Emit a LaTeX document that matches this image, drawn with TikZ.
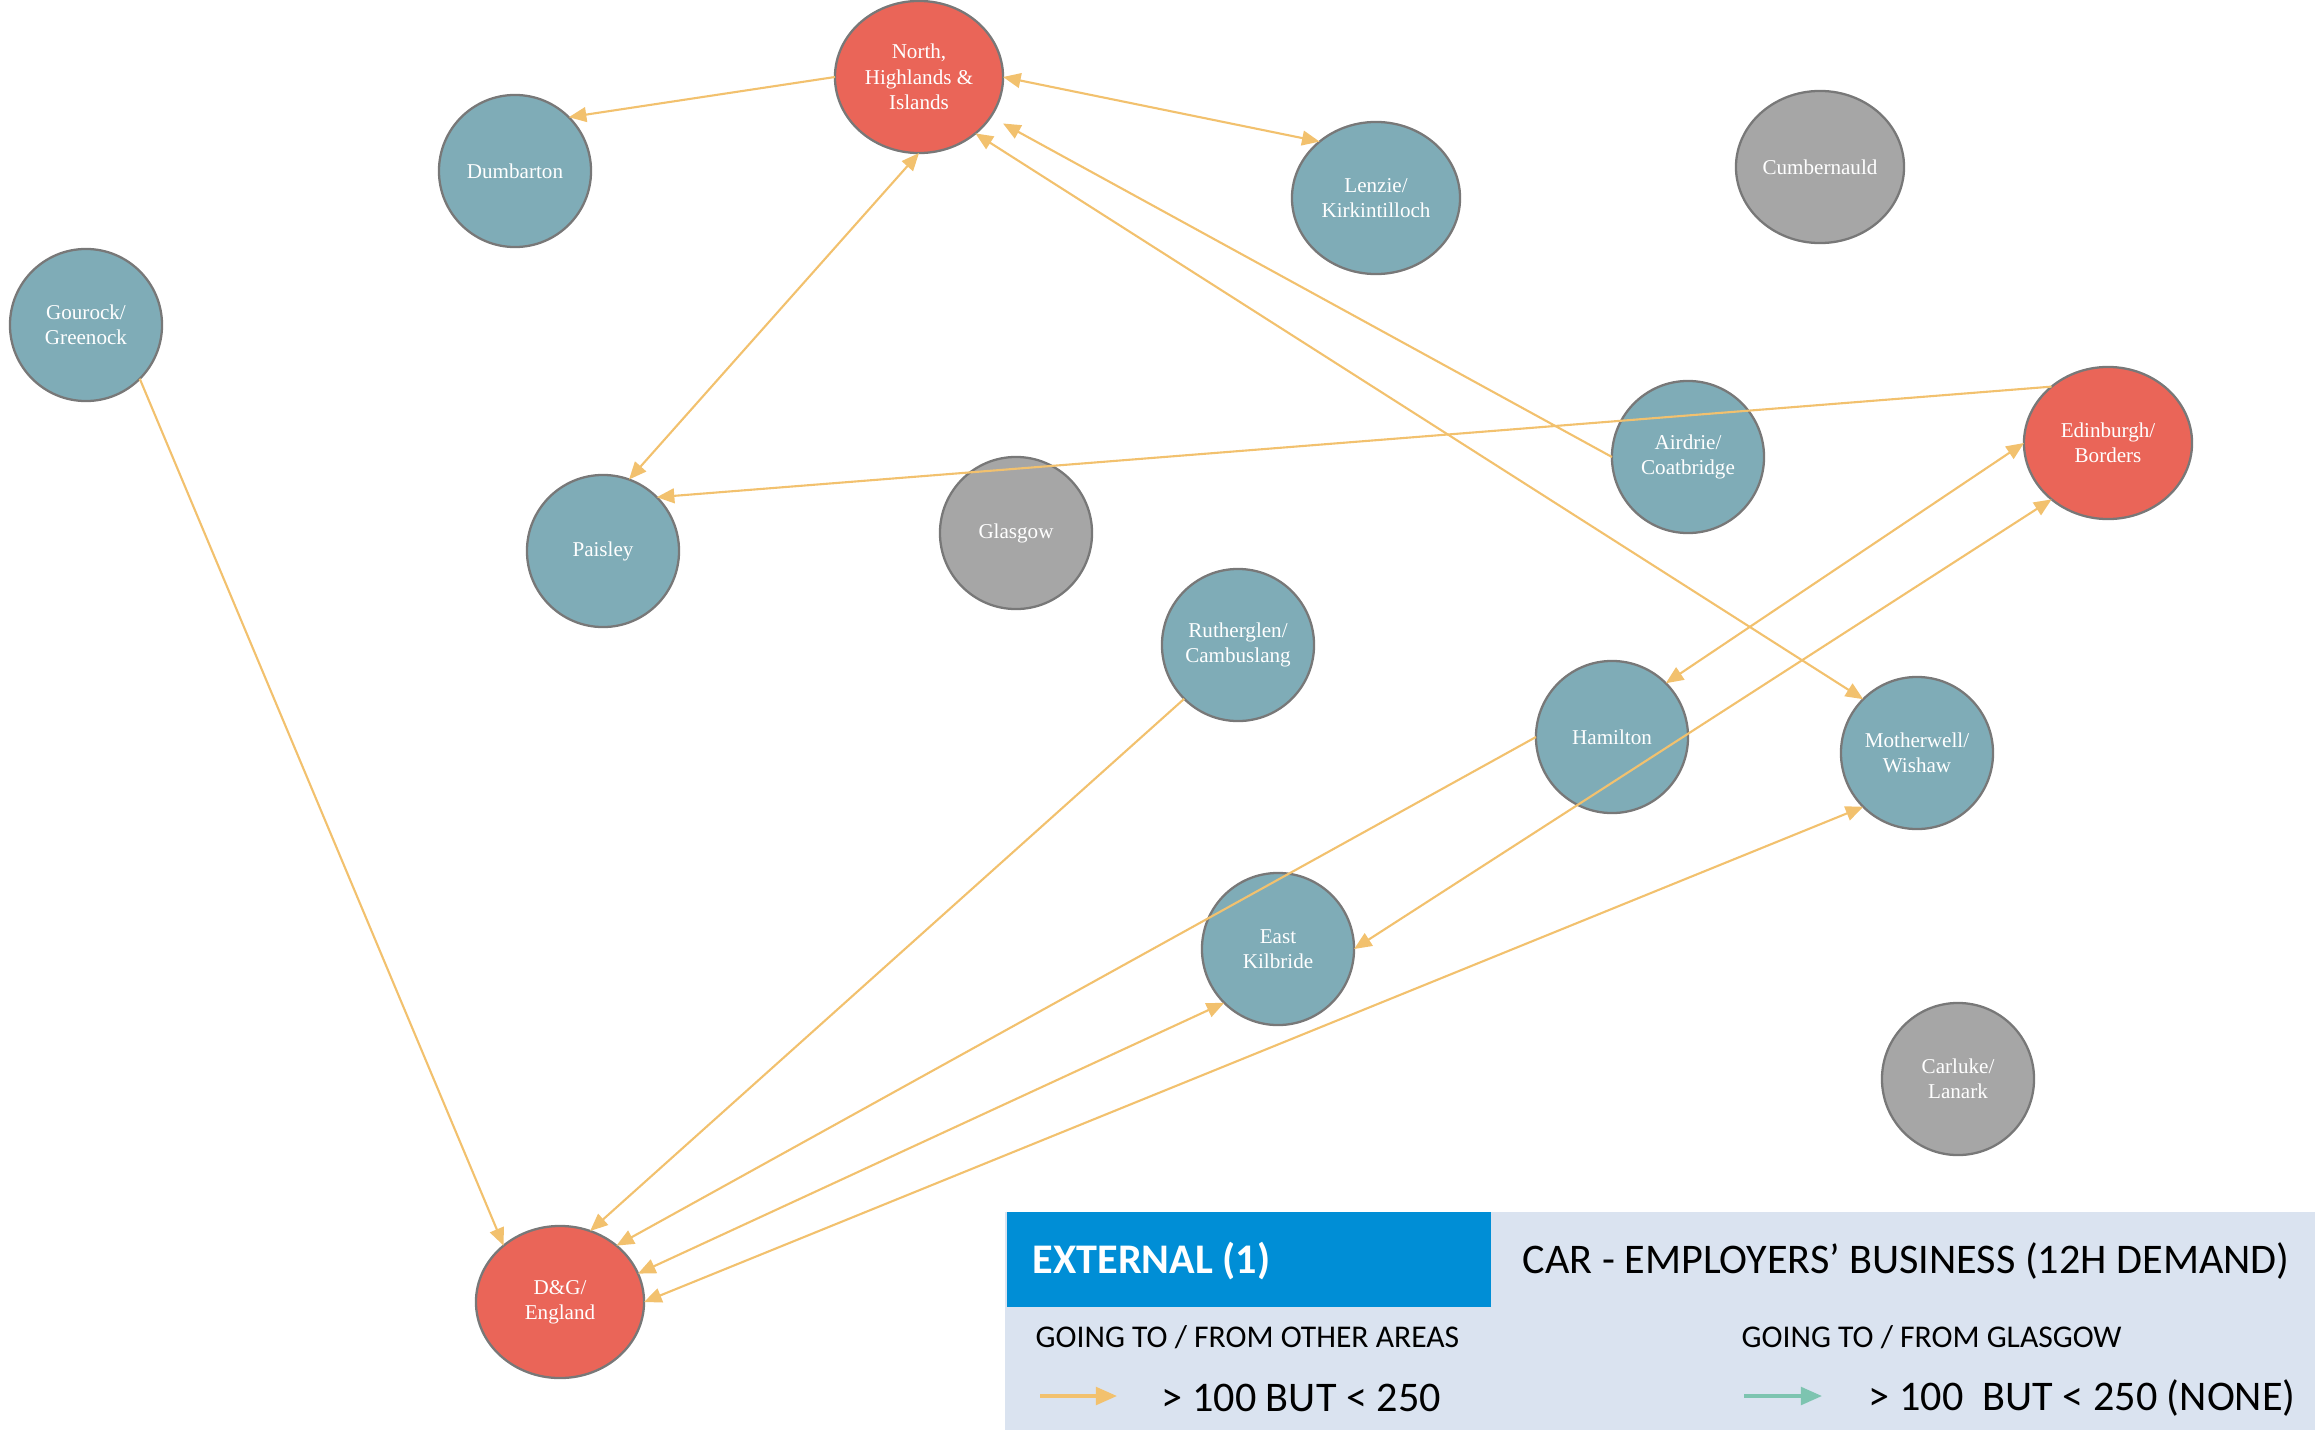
\documentclass[tikz,border=0pt]{standalone}
\usepackage{fontspec}
\setmainfont{Liberation Serif}
\newfontfamily\legendfont{Carlito}
\usetikzlibrary{shapes.geometric,arrows.meta}

\definecolor{zoneblue}{RGB}{127,172,183}
\definecolor{zonered}{RGB}{234,101,88}
\definecolor{zonegray}{RGB}{166,166,166}
\definecolor{rimgray}{RGB}{120,120,120}
\definecolor{flowcol}{RGB}{242,193,110}
\definecolor{keyteal}{RGB}{125,196,176}
\definecolor{legendbg}{RGB}{218,227,240}
\definecolor{legendblue}{RGB}{0,142,214}

\begin{document}
\begin{tikzpicture}[x=0.01cm,y=-0.01cm,
  zone/.style={ellipse,draw=rimgray,line width=0.65pt,minimum width=1.52cm,minimum height=1.52cm,
    inner sep=0pt,outer sep=0pt,text=white,align=center,font=\fontsize{6}{7.2}\selectfont},
  wide/.style={minimum width=1.68cm},
  areanode/.style={zone,fill=zoneblue},
  extnode/.style={zone,wide,fill=zonered},
  greynode/.style={zone,fill=zonegray},
  flow/.style={draw=flowcol,line width=0.6pt},
  >={Triangle[length=5pt,width=4.2pt]},
  keysmall/.style={anchor=west,inner sep=0pt,font=\legendfont\fontsize{9}{11}\selectfont},
  keybig/.style={anchor=west,inner sep=0pt,font=\legendfont\fontsize{12}{14}\selectfont},
  keyarrow/.style={line width=1pt,-{Triangle[length=6pt,width=5pt]}}]

% Cadre
\useasboundingbox (0,0) rectangle (2315,1430);

% Zones
\node[extnode] (north) at (919,77) {North,\\Highlands \&\\Islands};
\node[areanode] (dumbarton) at (515,171) {Dumbarton};
\node[areanode,wide] (lenzie) at (1376,198) {Lenzie/\\Kirkintilloch};
\node[greynode,wide] (cumbernauld) at (1820,167) {Cumbernauld};
\node[areanode] (gourock) at (86,325) {Gourock/\\Greenock};
\node[extnode] (edinburgh) at (2108,443) {Edinburgh/\\Borders};
\node[areanode] (airdrie) at (1688,457) {Airdrie/\\Coatbridge};
\node[areanode] (paisley) at (603,551) {Paisley};
\node[greynode] (glasgow) at (1016,533) {Glasgow};
\node[areanode] (rutherglen) at (1238,645) {Rutherglen/\\Cambuslang};
\node[areanode] (hamilton) at (1612,737) {Hamilton};
\node[areanode] (motherwell) at (1917,753) {Motherwell/\\Wishaw};
\node[areanode] (ekilbride) at (1278,949) {East\\Kilbride};
\node[greynode] (carluke) at (1958,1079) {Carluke/\\Lanark};
\node[extnode] (dg) at (560,1302) {D\&G/\\England};

% Flux
\draw[flow,->] (north.west) -- (dumbarton.45);
\draw[flow,<->] (north.east) -- (lenzie.135);
\draw[flow,<->] (north.south) -- (paisley.70);
\draw[flow,->,shorten >=4pt] (airdrie.west) -- (north.-29);
\draw[flow,<->] (north.-45) -- (motherwell.135);
\draw[flow,->] (edinburgh.135) -- (paisley.45);
\draw[flow,->] (gourock.-45) -- (dg.135);
\draw[flow,->] (rutherglen.-135) -- (dg.67);
\draw[flow,->] (hamilton.west) -- (dg.45);
\draw[flow,<->] (ekilbride.-135) -- (dg.20);
\draw[flow,<->] (motherwell.-135) -- (dg.east);
\draw[flow,<->] (hamilton.45) -- (edinburgh.west);
\draw[flow,<->] (ekilbride.east) -- (edinburgh.-135);

% Legende
\fill[legendbg] (1005,1212) rectangle (2315,1430);
\fill[legendblue] (1007,1212) rectangle (1491,1307);
\node[keybig,text=white,font=\legendfont\bfseries\fontsize{12}{14}\selectfont] (keytitle) at (1032,1261) {EXTERNAL (1)};
\node[keybig] (keymode) at (1522,1261) {CAR - EMPLOYERS’ BUSINESS (12H DEMAND)};
\node[keysmall] (keyother) at (1035,1337) {GOING TO / FROM OTHER AREAS};
\node[keysmall] (keyglasgow) at (1741,1337) {GOING TO / FROM GLASGOW};
\node[keybig] (keyotherband) at (1161,1398) {> 100 BUT < 250};
\node[keybig] (keyglasgowband) at (1868,1398) {> 100\ \ BUT < 250 (NONE)};
\coordinate (otherfrom) at (1040,1396);
\coordinate (otherto) at (1117,1396);
\coordinate (glasgowfrom) at (1744,1396);
\coordinate (glasgowto) at (1822,1396);
\draw[keyarrow,draw=flowcol,fill=flowcol] (otherfrom) -- (otherto);
\draw[keyarrow,draw=keyteal,fill=keyteal] (glasgowfrom) -- (glasgowto);

\end{tikzpicture}
\end{document}
